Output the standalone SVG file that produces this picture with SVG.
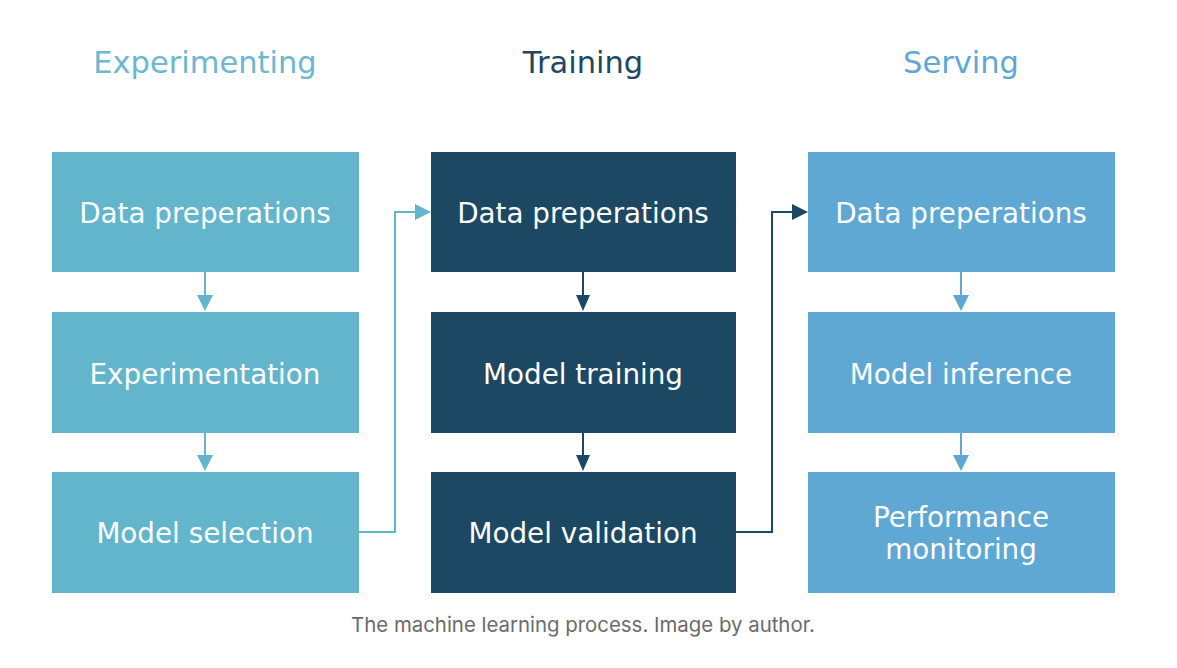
<svg xmlns="http://www.w3.org/2000/svg" width="1177" height="668" viewBox="0 0 1177 668">
<style>
.t{font-family:"DejaVu Sans",Verdana,sans-serif;font-size:30.5px;text-anchor:middle}
.b{font-family:"DejaVu Sans",Verdana,sans-serif;font-size:27.8px;fill:#fff;text-anchor:middle}
.c1{fill:#62b5cb}.c2{fill:#1d4864}.c3{fill:#5fa8d4}
.cap{font-family:Inter,"Liberation Sans",sans-serif;font-size:20.4px;fill:#6b6b6b;text-anchor:middle}
</style>
<rect width="1177" height="668" fill="#fff"/>
<text class="t" x="205" y="73" fill="#6bb8cf">Experimenting</text>
<text class="t" x="583" y="73" fill="#1d4864">Training</text>
<text class="t" x="961" y="73" fill="#5fa8d4">Serving</text>
<g id="n1"><rect class="c1" x="52" y="152" width="307" height="120"/><text class="b" x="205" y="223">Data preperations</text></g>
<g id="n2"><rect class="c1" x="52" y="312" width="307" height="121"/><text class="b" x="205" y="384">Experimentation</text></g>
<g id="n3"><rect class="c1" x="52" y="472" width="307" height="121"/><text class="b" x="205" y="543">Model selection</text></g>
<g id="n4"><rect class="c2" x="431" y="152" width="305" height="120"/><text class="b" x="583" y="223">Data preperations</text></g>
<g id="n5"><rect class="c2" x="431" y="312" width="305" height="121"/><text class="b" x="583" y="384">Model training</text></g>
<g id="n6"><rect class="c2" x="431" y="472" width="305" height="121"/><text class="b" x="583" y="543">Model validation</text></g>
<g id="n7"><rect class="c3" x="808" y="152" width="307" height="120"/><text class="b" x="961" y="223">Data preperations</text></g>
<g id="n8"><rect class="c3" x="808" y="312" width="307" height="121"/><text class="b" x="961" y="384">Model inference</text></g>
<g id="n9"><rect class="c3" x="808" y="472" width="307" height="121"/><text class="b" x="961" y="527">Performance</text><text class="b" x="961" y="559">monitoring</text></g>
<g id="connectors" fill="none" stroke-width="2">
<g stroke="#62b5cb"><path d="M205,272 V296"/><path d="M205,433 V456"/><path d="M359,532 H395 V212 H416"/></g>
<g stroke="#1d4864"><path d="M583,272 V296"/><path d="M583,433 V456"/><path d="M736,532 H772 V212 H793"/></g>
<g stroke="#5fa8d4"><path d="M961,272 V296"/><path d="M961,433 V456"/></g>
<g stroke="none">
<path fill="#62b5cb" d="M197,295 L213,295 L205,311 Z"/><path fill="#62b5cb" d="M197,455 L213,455 L205,471 Z"/><path fill="#62b5cb" d="M415,204 L431,212 L415,220 Z"/>
<path fill="#1d4864" d="M576,295 L590,295 L583,311 Z"/><path fill="#1d4864" d="M576,455 L590,455 L583,471 Z"/><path fill="#1d4864" d="M792,204 L808,212 L792,220 Z"/>
<path fill="#5fa8d4" d="M953,295 L969,295 L961,311 Z"/><path fill="#5fa8d4" d="M953,455 L969,455 L961,471 Z"/>
</g>
</g>
<text class="cap" x="583" y="632">The machine learning process. Image by author.</text>
</svg>
